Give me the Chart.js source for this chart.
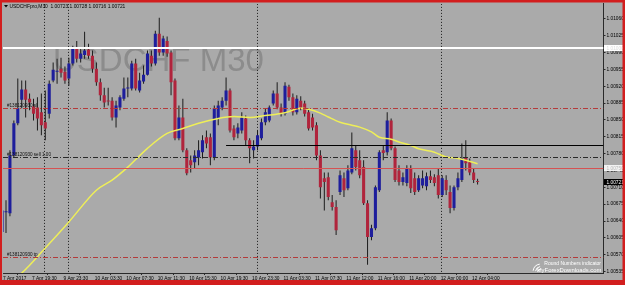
<!DOCTYPE html>
<html>
<head>
<meta charset="utf-8">
<script src="https://cdn.jsdelivr.net/npm/chart.js@4.4.0/dist/chart.umd.min.js"></script>
<style>
  html, body { margin: 0; padding: 0; background: #aaaaaa; }
  #wrap { width: 625px; height: 285px; }
</style>
</head>
<body>
<div id="wrap"><canvas id="chart" width="625" height="285"></canvas></div>
<script>
const FONT = '"Liberation Sans", Arial, sans-serif';
const BG = '#aaaaaa';
const BULL = '#1e1e9c';
const BEAR = '#b0243c';
const WICK = '#1c1c1c';
const AXIS = '#2a2a2a';

const titleText = 'USDCHFpro,M30  1.00723 1.00728 1.00716 1.00721';
const watermark = 'USDCHF M30';

// M30 candles, oldest first (bar 0 is cut by the left edge)
const opens = [
  1.00617, 1.00658, 1.00656, 1.00776, 1.00843, 1.00892, 1.00913, 1.00894, 1.00878, 1.00876,
  1.00866, 1.00845, 1.00863, 1.00932, 1.00950, 1.00956, 1.00950, 1.00936, 1.00967, 1.00998,
  1.00977, 1.00985, 1.00996, 1.00983, 1.00956, 1.00928, 1.00901, 1.00890, 1.00890, 1.00855,
  1.00876, 1.00894, 1.00915, 1.00915, 1.00967, 1.00911, 1.00930, 1.00944, 1.00983, 1.00967,
  1.01029, 1.00990, 1.01014, 1.00990, 1.00932, 1.00812, 1.00855, 1.00787, 1.00766, 1.00762,
  1.00772, 1.00783, 1.00814, 1.00814, 1.00772, 1.00853, 1.00876, 1.00890, 1.00911, 1.00832,
  1.00822, 1.00828, 1.00853, 1.00808, 1.00787, 1.00795, 1.00812, 1.00845, 1.00849, 1.00884,
  1.00905, 1.00876, 1.00863, 1.00919, 1.00897, 1.00866, 1.00890, 1.00884, 1.00866, 1.00855,
  1.00839, 1.00776, 1.00729, 1.00731, 1.00679, 1.00669, 1.00700, 1.00729, 1.00708, 1.00741,
  1.00787, 1.00766, 1.00752, 1.00677, 1.00607, 1.00625, 1.00704, 1.00787, 1.00783, 1.00849,
  1.00791, 1.00745, 1.00721, 1.00719, 1.00750, 1.00729, 1.00704, 1.00714, 1.00712, 1.00733,
  1.00731, 1.00735, 1.00694, 1.00725, 1.00700, 1.00667, 1.00710, 1.00725, 1.00772, 1.00762,
  1.00741, 1.00723
];
const highs = [
  1.00673, 1.00683, 1.00787, 1.00849, 1.00936, 1.00932, 1.00932, 1.00905, 1.00894, 1.00897,
  1.00905, 1.00911, 1.00932, 1.00969, 1.00977, 1.00979, 1.00961, 1.00979, 1.01004, 1.01014,
  1.00998, 1.01033, 1.01008, 1.00994, 1.00969, 1.00936, 1.00917, 1.00917, 1.00897, 1.00890,
  1.00901, 1.00938, 1.00938, 1.00973, 1.00977, 1.00948, 1.00963, 1.00994, 1.00994, 1.01035,
  1.01062, 1.01025, 1.01023, 1.00994, 1.00936, 1.00880, 1.00894, 1.00791, 1.00776, 1.00787,
  1.00808, 1.00818, 1.00828, 1.00822, 1.00880, 1.00890, 1.00897, 1.00938, 1.00915, 1.00839,
  1.00843, 1.00866, 1.00859, 1.00812, 1.00808, 1.00828, 1.00853, 1.00874, 1.00880, 1.00911,
  1.00928, 1.00884, 1.00928, 1.00923, 1.00905, 1.00901, 1.00899, 1.00890, 1.00874, 1.00863,
  1.00845, 1.00787, 1.00741, 1.00741, 1.00694, 1.00683, 1.00745, 1.00741, 1.00756, 1.00824,
  1.00797, 1.00787, 1.00766, 1.00683, 1.00632, 1.00714, 1.00787, 1.00797, 1.00866, 1.00853,
  1.00795, 1.00756, 1.00741, 1.00756, 1.00756, 1.00741, 1.00735, 1.00745, 1.00741, 1.00745,
  1.00737, 1.00750, 1.00735, 1.00735, 1.00714, 1.00714, 1.00741, 1.00801, 1.00808, 1.00770,
  1.00750, 1.00728
];
const lows = [
  1.00611, 1.00615, 1.00650, 1.00772, 1.00839, 1.00874, 1.00855, 1.00870, 1.00849, 1.00828,
  1.00818, 1.00808, 1.00853, 1.00928, 1.00925, 1.00938, 1.00925, 1.00921, 1.00963, 1.00969,
  1.00969, 1.00977, 1.00977, 1.00948, 1.00921, 1.00890, 1.00876, 1.00880, 1.00849, 1.00834,
  1.00870, 1.00890, 1.00897, 1.00911, 1.00911, 1.00907, 1.00925, 1.00942, 1.00961, 1.00963,
  1.00983, 1.00983, 1.00981, 1.00901, 1.00808, 1.00808, 1.00783, 1.00735, 1.00741, 1.00750,
  1.00756, 1.00770, 1.00791, 1.00756, 1.00766, 1.00839, 1.00870, 1.00880, 1.00824, 1.00808,
  1.00812, 1.00822, 1.00797, 1.00760, 1.00770, 1.00787, 1.00808, 1.00839, 1.00845, 1.00880,
  1.00872, 1.00857, 1.00859, 1.00890, 1.00859, 1.00861, 1.00870, 1.00857, 1.00828, 1.00828,
  1.00766, 1.00687, 1.00662, 1.00683, 1.00662, 1.00611, 1.00694, 1.00690, 1.00704, 1.00737,
  1.00745, 1.00729, 1.00673, 1.00549, 1.00600, 1.00621, 1.00700, 1.00766, 1.00776, 1.00787,
  1.00721, 1.00714, 1.00714, 1.00712, 1.00698, 1.00694, 1.00700, 1.00708, 1.00704, 1.00719,
  1.00712, 1.00687, 1.00690, 1.00694, 1.00656, 1.00662, 1.00704, 1.00721, 1.00745, 1.00735,
  1.00719, 1.00716
];
const closes = [
  1.00662, 1.00660, 1.00776, 1.00843, 1.00874, 1.00913, 1.00892, 1.00886, 1.00863, 1.00853,
  1.00839, 1.00832, 1.00925, 1.00954, 1.00952, 1.00948, 1.00932, 1.00967, 1.01000, 1.00977,
  1.00988, 1.00994, 1.00983, 1.00956, 1.00928, 1.00901, 1.00886, 1.00888, 1.00855, 1.00880,
  1.00897, 1.00915, 1.00917, 1.00967, 1.00915, 1.00932, 1.00944, 1.00988, 1.00967, 1.01029,
  1.00990, 1.01019, 1.00988, 1.00928, 1.00812, 1.00855, 1.00787, 1.00739, 1.00756, 1.00776,
  1.00787, 1.00808, 1.00801, 1.00772, 1.00874, 1.00880, 1.00890, 1.00911, 1.00828, 1.00814,
  1.00834, 1.00855, 1.00808, 1.00791, 1.00795, 1.00818, 1.00845, 1.00866, 1.00876, 1.00905,
  1.00876, 1.00863, 1.00921, 1.00897, 1.00866, 1.00894, 1.00876, 1.00863, 1.00832, 1.00834,
  1.00776, 1.00710, 1.00721, 1.00690, 1.00669, 1.00621, 1.00735, 1.00704, 1.00745, 1.00791,
  1.00752, 1.00735, 1.00677, 1.00607, 1.00625, 1.00710, 1.00783, 1.00781, 1.00849, 1.00791,
  1.00725, 1.00721, 1.00731, 1.00750, 1.00708, 1.00700, 1.00729, 1.00729, 1.00733, 1.00725,
  1.00719, 1.00694, 1.00729, 1.00704, 1.00667, 1.00710, 1.00729, 1.00770, 1.00760, 1.00741,
  1.00725, 1.00721
];

// moving average, read at some bars
const maBars = [3, 5, 11, 17, 24, 28, 32, 37, 42, 46, 50, 55, 59, 63, 67, 72, 76, 78, 81, 83,
  86, 89, 91, 94, 96, 99, 101, 104, 106, 110, 113, 116, 118, 121];
const maValues = [1.00520, 1.00532, 1.00584, 1.00638, 1.00704, 1.00725, 1.00752, 1.00791, 1.00822, 1.00832,
  1.00843, 1.00853, 1.00857, 1.00855, 1.00859, 1.00865, 1.00874, 1.00872, 1.00864, 1.00856,
  1.00845, 1.00839, 1.00835, 1.00825, 1.00814, 1.00810, 1.00804, 1.00797, 1.00790, 1.00783,
  1.00773, 1.00770, 1.00766, 1.00759];

const tickBars = [0, 8, 16, 24, 32, 40, 48, 56, 64, 72, 80, 88, 96, 104, 112, 120];
const tickLabels = ['7 Apr 2017', '7 Apr 19:30', '9 Apr 23:30', '10 Apr 03:30', '10 Apr 07:30',
  '10 Apr 11:30', '10 Apr 15:30', '10 Apr 19:30', '10 Apr 23:30', '11 Apr 03:30', '11 Apr 07:30',
  '11 Apr 12:00', '11 Apr 16:00', '11 Apr 20:00', '12 Apr 00:00', '12 Apr 04:00'];
const priceTicks = [1.01060, 1.01025, 1.00990, 1.00955, 1.00920, 1.00885, 1.00850, 1.00815,
  1.00780, 1.00745, 1.00710, 1.00675, 1.00640, 1.00605, 1.00570, 1.00535];

const separatorBars = [11, 17, 65, 112];
const roundLevels = [1.01000, 1.00750];
const orderLevels = [1.00874, 1.00772, 1.00566];
const orderTexts = ['#138120930 sl', '#138120930 sell 1.00', '#138120930 tp'];
const lineLevel = 1.00797;
const lineFromBar = 57;

const X_MIN = 0.237, X_MAX = 153.04;
const Y_MIN = 1.00532, Y_MAX = 1.01091;

const idx = opens.map((_, i) => i);
const isUp = idx.map(i => closes[i] >= opens[i]);

function hline(ctx, area, py, color, dash, width, fromX) {
  ctx.save();
  ctx.strokeStyle = color;
  ctx.lineWidth = width;
  ctx.setLineDash(dash);
  ctx.beginPath();
  ctx.moveTo(fromX !== undefined ? fromX : area.left, py);
  ctx.lineTo(area.right, py);
  ctx.stroke();
  ctx.restore();
}

function axisBox(ctx, py, fill, textColor, text) {
  ctx.save();
  ctx.fillStyle = fill;
  ctx.fillRect(604, py - 3, 21, 6);
  ctx.fillStyle = textColor;
  ctx.font = '4.8px ' + FONT;
  ctx.textBaseline = 'middle';
  ctx.fillText(text, 606.5, py + 0.3);
  ctx.restore();
}

const mt4Look = {
  id: 'mt4Look',
  beforeDraw(chart) {
    const ctx = chart.ctx;
    ctx.save();
    ctx.fillStyle = BG;
    ctx.fillRect(0, 0, chart.width, chart.height);
    ctx.restore();
  },
  beforeDatasetsDraw(chart) {
    const { ctx, chartArea: a, scales: { x } } = chart;
    ctx.save();
    ctx.beginPath();
    ctx.rect(a.left, a.top, a.right - a.left, a.bottom - a.top);
    ctx.clip();
    ctx.font = '33px ' + FONT;
    ctx.fillStyle = '#8c8c8c';
    ctx.textBaseline = 'alphabetic';
    ctx.fillText(watermark, 53, 71);
    ctx.strokeStyle = '#1a1a1a';
    ctx.lineWidth = 1;
    ctx.setLineDash([1, 2]);
    separatorBars.forEach(b => {
      const px = Math.round(x.getPixelForValue(b - 0.25)) + 0.5;
      ctx.beginPath();
      ctx.moveTo(px, a.top);
      ctx.lineTo(px, a.bottom);
      ctx.stroke();
    });
    ctx.restore();
  },
  afterDatasetsDraw(chart) {
    const { ctx, chartArea: a, scales: { x, y } } = chart;
    const py = v => Math.round(y.getPixelForValue(v)) + 0.5;
    ctx.save();
    ctx.beginPath();
    ctx.rect(a.left, a.top, a.right - a.left, a.bottom - a.top);
    ctx.clip();
    hline(ctx, a, py(roundLevels[0]) - 0.5, '#ffffff', [], 2);
    hline(ctx, a, py(roundLevels[1]), '#d65252', [], 1);
    hline(ctx, a, py(orderLevels[0]), '#b43a3a', [5, 2, 1, 2], 1);
    hline(ctx, a, py(orderLevels[1]), '#2a2a2a', [5, 2, 1, 2], 1);
    hline(ctx, a, py(orderLevels[2]), '#b43a3a', [5, 2, 1, 2], 1);
    hline(ctx, a, py(lineLevel), '#000000', [], 1, x.getPixelForValue(lineFromBar));
    ctx.font = '4.6px ' + FONT;
    ctx.fillStyle = '#111';
    ctx.textBaseline = 'bottom';
    orderLevels.forEach((v, i) => ctx.fillText(orderTexts[i], 7, py(v) - 0.5));
    ctx.restore();
  },
  afterDraw(chart) {
    const { ctx, scales: { y } } = chart;
    const py = v => Math.round(y.getPixelForValue(v));
    axisBox(ctx, py(roundLevels[0]), '#ffffff', '#dcdcdc', roundLevels[0].toFixed(5));
    axisBox(ctx, py(roundLevels[1]), '#f2f2f2', '#b8b8b8', roundLevels[1].toFixed(5));
    axisBox(ctx, py(closes[closes.length - 1]), '#000000', '#ffffff', closes[closes.length - 1].toFixed(5));

    ctx.save();
    // title
    ctx.fillStyle = '#000';
    ctx.beginPath();
    ctx.moveTo(4, 5); ctx.lineTo(8, 5); ctx.lineTo(6, 7.5); ctx.closePath();
    ctx.fill();
    ctx.font = '4.9px ' + FONT;
    ctx.textBaseline = 'middle';
    ctx.fillText(titleText, 9.5, 6.3);

    // indicator credit, bottom right
    ctx.strokeStyle = '#ffffff';
    ctx.lineWidth = 1;
    [0, 2.5, 5].forEach(d => {
      ctx.beginPath();
      ctx.arc(541, 272, 8 - d, Math.PI * 1.05, Math.PI * 1.45);
      ctx.stroke();
    });
    ctx.fillStyle = '#ffffff';
    ctx.textAlign = 'right';
    ctx.textBaseline = 'middle';
    ctx.font = '5px ' + FONT;
    ctx.fillText('Round Numbers indicator', 601, 264);
    ctx.font = '5.9px ' + FONT;
    ctx.fillText('MyForexDownloads.com', 601.5, 270);

    // red frame
    ctx.fillStyle = '#d21e1e';
    ctx.fillRect(0, 0, 625, 2.5);
    ctx.fillRect(0, 0, 2, 285);
    ctx.fillRect(622.5, 0, 2.5, 285);
    ctx.fillRect(0, 280, 625, 5);
    ctx.restore();
  }
};

const chart = new Chart(document.getElementById('chart'), {
  type: 'bar',
  data: {
    datasets: [
      {
        type: 'line',
        label: 'MA',
        order: 1,
        data: maBars.map((b, i) => ({ x: b, y: maValues[i] })),
        borderColor: '#eeee58',
        borderWidth: 1.5,
        pointRadius: 0,
        cubicInterpolationMode: 'monotone',
        fill: false
      },
      {
        label: 'body',
        order: 2,
        grouped: false,
        data: idx.map(i => ({ x: i, y: [opens[i], closes[i]] })),
        backgroundColor: c => (isUp[c.dataIndex] ? BULL : BEAR),
        categoryPercentage: 1,
        barPercentage: 0.78,
        minBarLength: 1
      },
      {
        label: 'wick',
        order: 3,
        grouped: false,
        data: idx.map(i => ({ x: i, y: [lows[i], highs[i]] })),
        backgroundColor: WICK,
        maxBarThickness: 1,
        minBarLength: 1
      }
    ]
  },
  options: {
    responsive: false,
    animation: false,
    events: [],
    layout: { padding: { left: 3, top: 3, right: 0, bottom: 0 } },
    plugins: { legend: { display: false }, tooltip: { enabled: false } },
    scales: {
      x: {
        type: 'linear',
        min: X_MIN,
        max: X_MAX,
        offset: false,
        grid: { display: true, drawOnChartArea: false, drawTicks: true, tickLength: 2, color: AXIS },
        border: { display: true, color: AXIS, width: 1 },
        ticks: {
          autoSkip: false, maxRotation: 0, minRotation: 0, align: 'start', padding: 1,
          color: '#000', font: { family: FONT, size: 4.8 },
          callback: (v, i) => tickLabels[i]
        },
        afterBuildTicks: a => { a.ticks = tickBars.map(b => ({ value: Math.max(b - 0.4, X_MIN) })); },
        afterFit: a => { a.height = 12; }
      },
      y: {
        position: 'right',
        min: Y_MIN,
        max: Y_MAX,
        grid: { display: true, drawOnChartArea: false, drawTicks: true, tickLength: 2, color: AXIS },
        border: { display: true, color: AXIS, width: 1 },
        ticks: {
          padding: 1, color: '#000', font: { family: FONT, size: 4.8 },
          callback: v => v.toFixed(5)
        },
        afterBuildTicks: a => { a.ticks = priceTicks.map(v => ({ value: v })); },
        afterFit: a => { a.width = 21.5; }
      }
    }
  },
  plugins: [mt4Look]
});
</script>
</body>
</html>
